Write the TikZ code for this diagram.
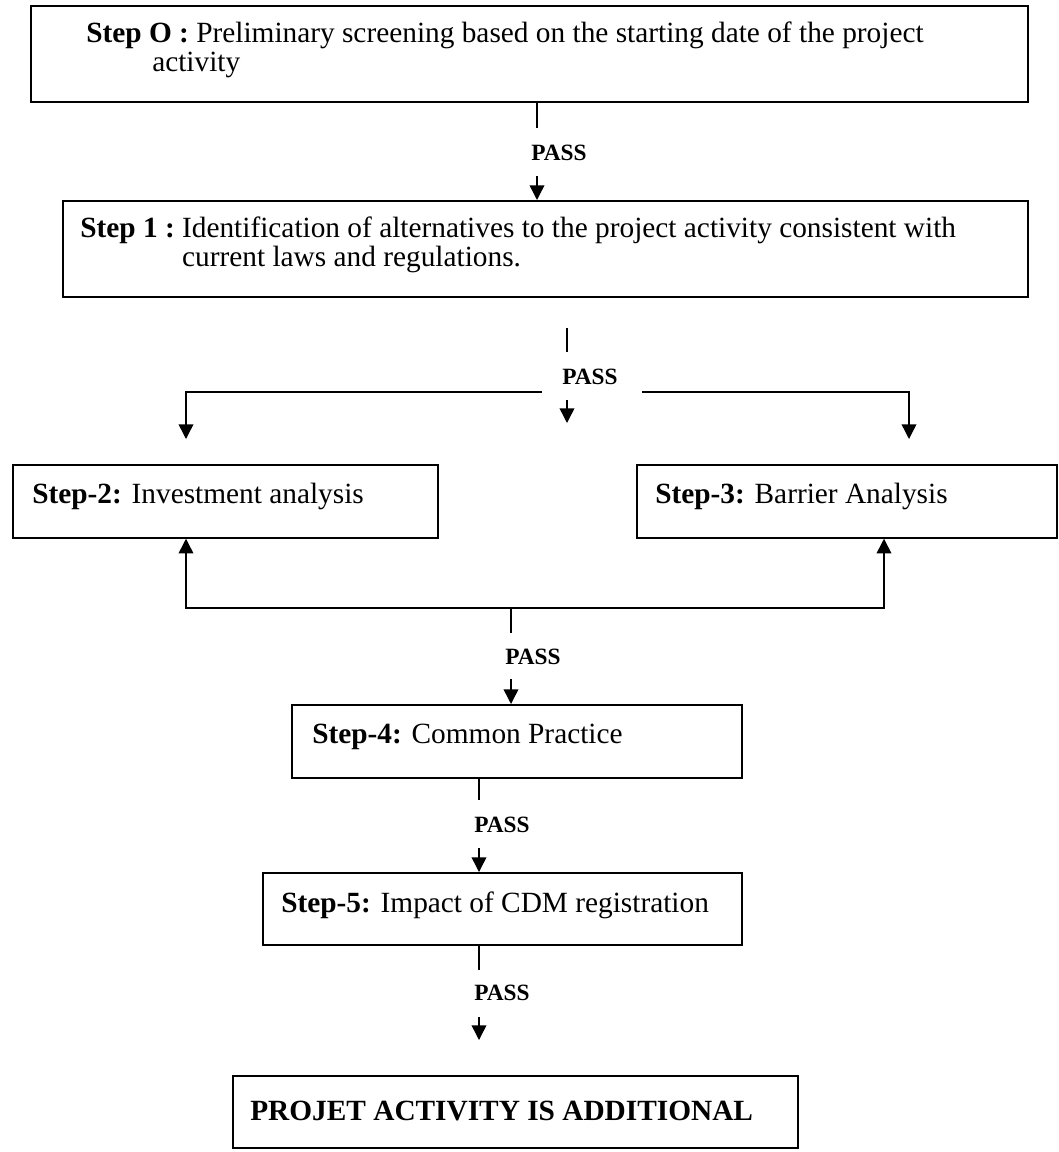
\documentclass[tikz,border=0pt]{standalone}
\usepackage{fontspec}
\setmainfont{Liberation Serif}
\usetikzlibrary{arrows.meta}
\begin{document}
\begin{tikzpicture}[x=0.75pt,y=-0.75pt,
  box/.style={draw,line width=1.3pt,inner sep=0pt,anchor=north west},
  txt/.style={anchor=base west,inner sep=0pt,font=\fontsize{22}{22}\selectfont},
  pass/.style={anchor=west,inner sep=0pt,font=\fontsize{17.5}{20}\selectfont\bfseries},
  ln/.style={line width=1.1pt},
  arr/.style={line width=1.1pt,-{Triangle[length=11pt,width=11pt]}}]
\useasboundingbox (0,0) rectangle (1058,1152);
% boxes
\node[box,minimum width=747.75pt,minimum height=72pt] (b0) at (30,5) {};
\node[box,minimum width=723.75pt,minimum height=72pt] (b1) at (62,200) {};
\node[box,minimum width=318.75pt,minimum height=54.75pt] (b2) at (12,464) {};
\node[box,minimum width=315pt,minimum height=54.75pt] (b3) at (636,464) {};
\node[box,minimum width=337.5pt,minimum height=54.75pt] (b4) at (291,704) {};
\node[box,minimum width=359.25pt,minimum height=54pt] (b5) at (262,872) {};
\node[box,minimum width=423.75pt,minimum height=54pt] (b6) at (232,1075) {};
% texts
\node[txt] (t0) at (86,43) {\textbf{Step O :} Preliminary screening based on the starting date of the project};
\node[txt] (t0b) at (152,72) {activity};
\node[txt] (t1) at (80,237) {\begin{tabular}[t]{@{}l@{\ }l@{}}\textbf{Step 1 :} & Identification of alternatives to the project activity consistent with\\ & current laws and regulations.\end{tabular}};
\node[txt] (t2) at (32,503) {\textbf{Step-2:} Investment analysis};
\node[txt] (t3) at (655,503) {\textbf{Step-3:} Barrier Analysis};
\node[txt] (t4) at (312,743) {\textbf{Step-4:} Common Practice};
\node[txt] (t5) at (281,912) {\textbf{Step-5:} Impact of CDM registration};
\node[txt] (t6) at (250,1120) {\textbf{PROJET ACTIVITY IS ADDITIONAL}};
% connector 0
\coordinate (c0a) at (537,128);
\coordinate (c0b) at (537,176);
\draw[ln] (b0.south -| c0a) -- (c0a);
\node[pass] (p0) at (531,153) {PASS};
\draw[arr] (c0b) -- (c0b |- b1.north);
% connector 1 (split)
\coordinate (c1t) at (567,328);
\coordinate (c1m) at (567,352);
\draw[ln] (c1t) -- (c1m);
\node[pass] (p1) at (562,377) {PASS};
\coordinate (c1L) at (542,392);
\coordinate (c1R) at (642,392);
\coordinate (c1Le) at (186,439);
\coordinate (c1Re) at (909,439);
\coordinate (c1c) at (567,400);
\coordinate (c1ce) at (567,423);
\draw[arr] (c1L) -| (c1Le);
\draw[arr] (c1R) -| (c1Re);
\draw[arr] (c1c) -- (c1ce);
% connector 2 (merge)
\coordinate (c2j) at (511,608);
\coordinate (c2L) at (186,608);
\coordinate (c2R) at (884,608);
\draw[arr] (c2j) -- (c2L) -- (c2L |- b2.south);
\draw[arr] (c2j) -- (c2R) -- (c2R |- b3.south);
\coordinate (c2d) at (511,633);
\draw[ln] (c2j) -- (c2d);
\node[pass] (p2) at (505,657) {PASS};
\coordinate (c2a) at (511,679);
\draw[arr] (c2a) -- (c2a |- b4.north);
% connector 3
\coordinate (c3d) at (479,800);
\draw[ln] (b4.south -| c3d) -- (c3d);
\node[pass] (p3) at (474,825) {PASS};
\coordinate (c3a) at (479,848);
\draw[arr] (c3a) -- (c3a |- b5.north);
% connector 4
\coordinate (c4d) at (479,970);
\draw[ln] (b5.south -| c4d) -- (c4d);
\node[pass] (p4) at (474,993) {PASS};
\coordinate (c4a) at (479,1017);
\coordinate (c4e) at (479,1040);
\draw[arr] (c4a) -- (c4e);
\end{tikzpicture}
\end{document}
